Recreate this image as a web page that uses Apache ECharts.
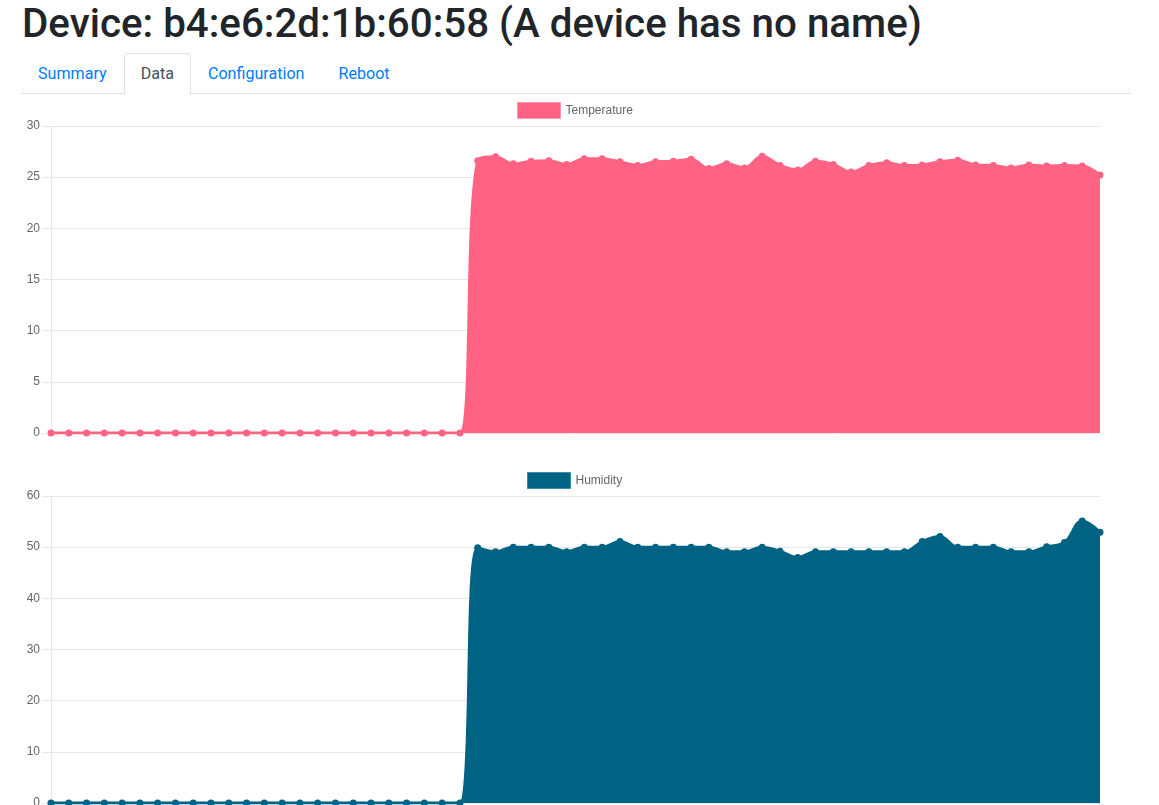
<!DOCTYPE html>
<html>
<head>
<meta charset="utf-8">
<script src="https://cdn.jsdelivr.net/npm/echarts@6/dist/echarts.min.js"></script>
<style>
  html, body { margin:0; padding:0; background:#fff; width:1159px; height:805px; overflow:hidden; font-family: Roboto, "Noto Sans", sans-serif; }
  h1 { position:absolute; left:22px; top:0px; margin:0; font-weight:500; font-size:40.3px; line-height:48px; color:#212529; white-space:nowrap; }
  ul.tabs { position:absolute; left:21px; top:53px; width:1110px; height:40px; margin:0; padding:0; list-style:none; border-bottom:1px solid #dee2e6; display:flex; }
  ul.tabs li { margin-bottom:-1px; }
  ul.tabs a { display:block; padding:8px 16px; font-size:16.1px; line-height:24px; color:#007bff; text-decoration:none; border:1px solid transparent; border-radius:4px 4px 0 0; }
  ul.tabs a.active { color:#495057; background:#fff; border-color:#dee2e6 #dee2e6 #fff; }
  #chart { position:absolute; left:0; top:95px; width:1159px; height:710px; }
</style>
</head>
<body>
<h1>Device: b4:e6:2d:1b:60:58 (A device has no name)</h1>
<ul class="tabs">
  <li><a href="#">Summary</a></li>
  <li><a href="#" class="active">Data</a></li>
  <li><a href="#">Configuration</a></li>
  <li><a href="#">Reboot</a></li>
</ul>
<div id="chart"></div>
<script>
const labels = ['','','','','','','','','','','','','','','','','','','','','','','','','','','','','','','','','','','','','','','','','','','','','','','','','','','','','','','','','','','',''];
const temperature = [0,0,0,0,0,0,0,0,0,0,0,0,0,0,0,0,0,0,0,0,0,0,0,0,
  26.6, 27.0, 26.3, 26.55, 26.6, 26.25, 26.8, 26.8, 26.5, 26.15, 26.5, 26.55, 26.75, 25.85, 26.3, 25.9, 27.05, 26.15,
  25.7, 26.55, 26.25, 25.5, 26.15, 26.4, 26.15, 26.2, 26.5, 26.65, 26.2, 26.15, 25.9, 26.2, 26.1, 26.15, 26.1, 25.2];
const humidity = [0,0,0,0,0,0,0,0,0,0,0,0,0,0,0,0,0,0,0,0,0,0,0,0,
  49.9, 49.1, 50.0, 50.0, 50.0, 49.1, 50.0, 50.0, 51.1, 50.0, 50.0, 50.0, 50.0, 50.0, 49.1, 49.1, 50.0, 49.2,
  48.0, 49.1, 49.1, 49.1, 49.1, 49.1, 49.1, 51.1, 52.1, 50.0, 50.0, 50.0, 49.1, 49.1, 50.1, 50.9, 55.1, 52.9];
const tempTicks = {min:0, max:30, interval:5};
const humTicks = {min:0, max:60, interval:10};

const gridCol = '#e6e6e6';
const chart = echarts.init(document.getElementById('chart'), null, {renderer:'canvas'});
function yAxis(idx, t) {
  return {
    type:'value', gridIndex:idx, min:t.min, max:t.max, interval:t.interval,
    axisLine:{show:true, lineStyle:{color:gridCol, width:1}},
    axisTick:{show:true, length:9, lineStyle:{color:gridCol}},
    splitLine:{show:true, lineStyle:{color:gridCol, width:1}},
    axisLabel:{color:'#666', fontSize:12, margin:11, fontFamily:'"Liberation Sans", Arial, sans-serif'}
  };
}
function xAxis(idx) {
  return {
    type:'category', gridIndex:idx, data:labels, boundaryGap:false,
    axisLine:{show:false}, axisTick:{show:false}, axisLabel:{show:false}, splitLine:{show:false}
  };
}
function series(name, idx, data, color) {
  return {
    name, type:'line', xAxisIndex:idx, yAxisIndex:idx, data, smooth:0.4,
    symbol:'circle', symbolSize:7, showSymbol:true,
    lineStyle:{color, width:3}, itemStyle:{color},
    areaStyle:{color, opacity:1}, animation:false
  };
}
const legendText = {color:'#666', fontSize:12, fontFamily:'"Liberation Sans", Arial, sans-serif'};
chart.setOption({
  animation:false,
  legend:[
    {data:[{name:'Temperature', icon:'rect', itemStyle:{borderColor:'rgba(255,150,170,1)', borderWidth:1}}],
     top:7, left:517, padding:0, itemWidth:43, itemHeight:16, textStyle:legendText},
    {data:[{name:'Humidity', icon:'rect', itemStyle:{borderColor:'rgba(60,140,165,1)', borderWidth:1}}],
     top:377, left:527, padding:0, itemWidth:43, itemHeight:16, textStyle:legendText}
  ],
  grid:[
    {left:51, top:31, width:1049, height:307, outerBoundsMode:'none', containLabel:false},
    {left:51, top:401, width:1049, height:307, outerBoundsMode:'none', containLabel:false}
  ],
  xAxis:[xAxis(0), xAxis(1)],
  yAxis:[yAxis(0, tempTicks), yAxis(1, humTicks)],
  series:[
    series('Temperature', 0, temperature, '#ff6384'),
    series('Humidity', 1, humidity, '#006384')
  ]
});
</script>
</body>
</html>
